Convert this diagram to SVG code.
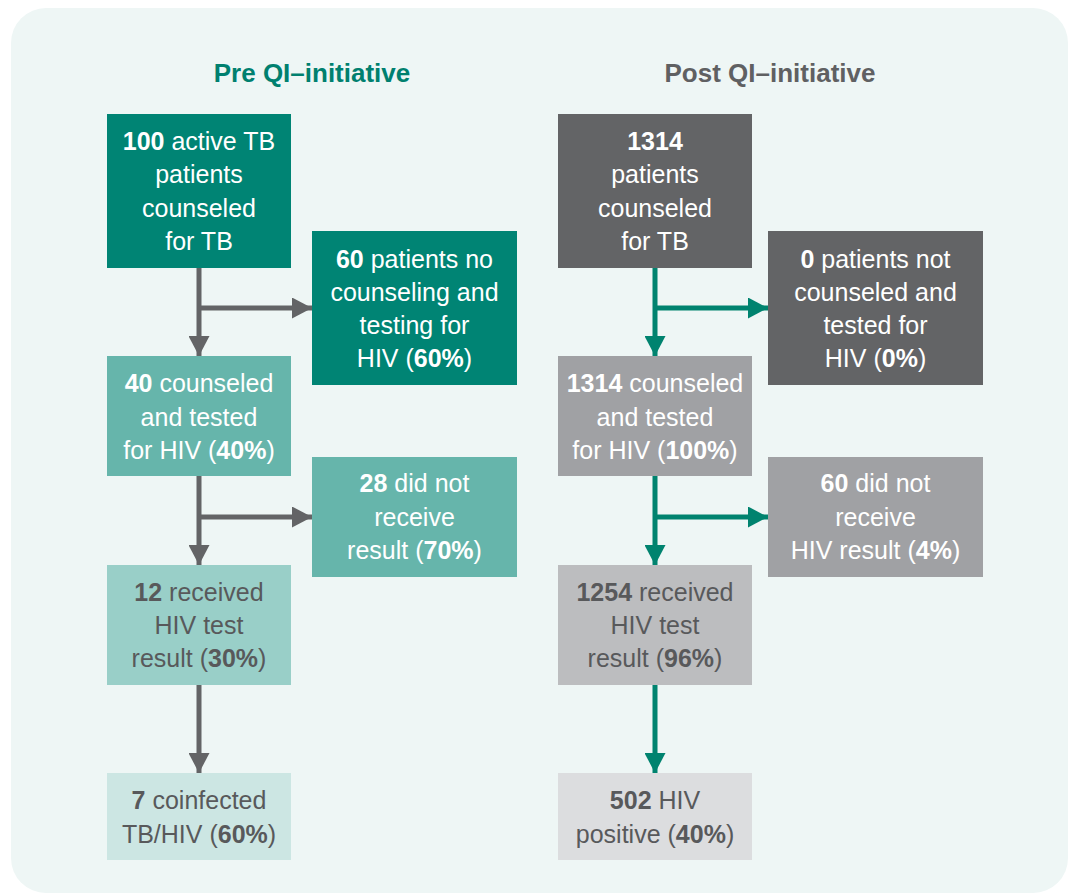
<svg xmlns="http://www.w3.org/2000/svg" width="1071" height="896" viewBox="0 0 1071 896">
<style>
text{font-family:"Liberation Sans",Arial,sans-serif;font-size:25px;text-anchor:middle}
.b{font-weight:bold}
.w{fill:#ffffff}
.d{fill:#58595b}
.title{font-size:26px;font-weight:bold}
.cg{stroke:#636466;stroke-width:5;fill:none}
.ct{stroke:#00836f;stroke-width:5;fill:none}
</style>
<defs>
<marker id="ag" markerUnits="userSpaceOnUse" markerWidth="20" markerHeight="21" refX="20" refY="10.5" orient="auto">
<path d="M0,0 L20,10.5 L0,21 z" fill="#636466"/>
</marker>
<marker id="at" markerUnits="userSpaceOnUse" markerWidth="20" markerHeight="21" refX="20" refY="10.5" orient="auto">
<path d="M0,0 L20,10.5 L0,21 z" fill="#00836f"/>
</marker>
</defs>
<rect x="11" y="8" width="1057" height="885" rx="35" fill="#eef6f5"/>
<text class="title" x="312" y="82" fill="#00806f">Pre QI–initiative</text>
<text class="title" x="770" y="82" fill="#5f6062">Post QI–initiative</text>
<g id="connectors">
<path class="cg" d="M199,268 V356" marker-end="url(#ag)"/>
<path class="cg" d="M199,308 H312" marker-end="url(#ag)"/>
<path class="cg" d="M199,476 V565" marker-end="url(#ag)"/>
<path class="cg" d="M199,517 H312" marker-end="url(#ag)"/>
<path class="cg" d="M199,685 V773" marker-end="url(#ag)"/>
<path class="ct" d="M655,268 V356" marker-end="url(#at)"/>
<path class="ct" d="M655,308 H768" marker-end="url(#at)"/>
<path class="ct" d="M655,476 V565" marker-end="url(#at)"/>
<path class="ct" d="M655,517 H768" marker-end="url(#at)"/>
<path class="ct" d="M655,685 V773" marker-end="url(#at)"/>
</g>
<g id="pre1">
<rect x="107" y="114" width="184" height="154" fill="#008474"/>
<text class="w" x="199" y="150"><tspan class="b">100</tspan> active TB</text>
<text class="w" x="199" y="183">patients</text>
<text class="w" x="199" y="217">counseled</text>
<text class="w" x="199" y="250">for TB</text>
</g>
<g id="pre2">
<rect x="312" y="231" width="205" height="154" fill="#008474"/>
<text class="w" x="414.5" y="268"><tspan class="b">60</tspan> patients no</text>
<text class="w" x="414.5" y="301">counseling and</text>
<text class="w" x="414.5" y="334">testing for</text>
<text class="w" x="414.5" y="367">HIV (<tspan class="b">60%</tspan>)</text>
</g>
<g id="pre3">
<rect x="107" y="356" width="184" height="120" fill="#66b5ab"/>
<text class="w" x="199" y="392"><tspan class="b">40</tspan> counseled</text>
<text class="w" x="199" y="426">and tested</text>
<text class="w" x="199" y="459">for HIV (<tspan class="b">40%</tspan>)</text>
</g>
<g id="pre4">
<rect x="312" y="457" width="205" height="120" fill="#66b5ab"/>
<text class="w" x="414.5" y="492"><tspan class="b">28</tspan> did not</text>
<text class="w" x="414.5" y="526">receive</text>
<text class="w" x="414.5" y="559">result (<tspan class="b">70%</tspan>)</text>
</g>
<g id="pre5">
<rect x="107" y="565" width="184" height="120" fill="#99cfc8"/>
<text class="d" x="199" y="601"><tspan class="b">12</tspan> received</text>
<text class="d" x="199" y="634">HIV test</text>
<text class="d" x="199" y="667">result (<tspan class="b">30%</tspan>)</text>
</g>
<g id="pre6">
<rect x="107" y="773" width="184" height="87" fill="#cce6e3"/>
<text class="d" x="199" y="809"><tspan class="b">7</tspan> coinfected</text>
<text class="d" x="199" y="843">TB/HIV (<tspan class="b">60%</tspan>)</text>
</g>
<g id="post1">
<rect x="558" y="114" width="194" height="154" fill="#636466"/>
<text class="w" x="655" y="150"><tspan class="b">1314</tspan></text>
<text class="w" x="655" y="183">patients</text>
<text class="w" x="655" y="217">counseled</text>
<text class="w" x="655" y="250">for TB</text>
</g>
<g id="post2">
<rect x="768" y="231" width="215" height="154" fill="#636466"/>
<text class="w" x="875.5" y="268"><tspan class="b">0</tspan> patients not</text>
<text class="w" x="875.5" y="301">counseled and</text>
<text class="w" x="875.5" y="334">tested for</text>
<text class="w" x="875.5" y="367">HIV (<tspan class="b">0%</tspan>)</text>
</g>
<g id="post3">
<rect x="558" y="356" width="194" height="120" fill="#a0a1a4"/>
<text class="w" x="655" y="392"><tspan class="b">1314</tspan> counseled</text>
<text class="w" x="655" y="426">and tested</text>
<text class="w" x="655" y="459">for HIV (<tspan class="b">100%</tspan>)</text>
</g>
<g id="post4">
<rect x="768" y="457" width="215" height="120" fill="#a0a1a4"/>
<text class="w" x="875.5" y="492"><tspan class="b">60</tspan> did not</text>
<text class="w" x="875.5" y="526">receive</text>
<text class="w" x="875.5" y="559">HIV result (<tspan class="b">4%</tspan>)</text>
</g>
<g id="post5">
<rect x="558" y="565" width="194" height="120" fill="#bcbdbf"/>
<text class="d" x="655" y="601"><tspan class="b">1254</tspan> received</text>
<text class="d" x="655" y="634">HIV test</text>
<text class="d" x="655" y="667">result (<tspan class="b">96%</tspan>)</text>
</g>
<g id="post6">
<rect x="558" y="773" width="194" height="87" fill="#dcdddf"/>
<text class="d" x="655" y="809"><tspan class="b">502</tspan> HIV</text>
<text class="d" x="655" y="843">positive (<tspan class="b">40%</tspan>)</text>
</g>
</svg>
